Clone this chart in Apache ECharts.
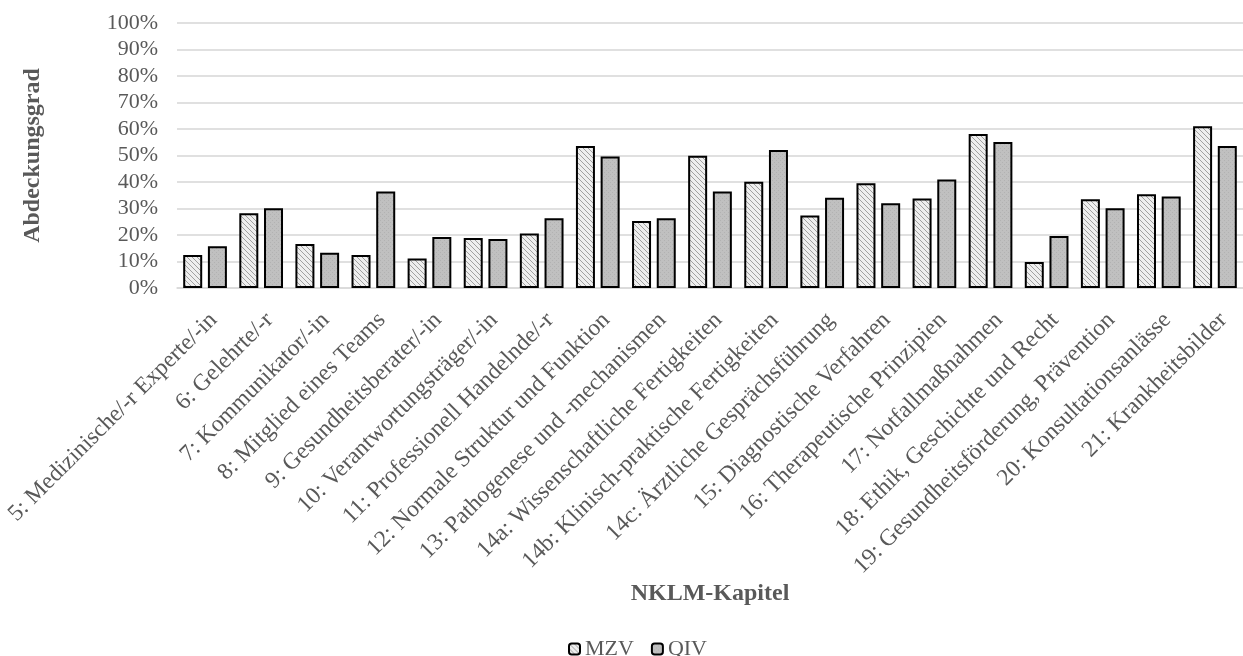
<!DOCTYPE html>
<html>
<head>
<meta charset="utf-8">
<script src="https://cdn.jsdelivr.net/npm/echarts@6/dist/echarts.min.js"></script>
<style>
html,body{margin:0;padding:0;background:#fff;}
#chart{width:1243px;height:656px;}
</style>
</head>
<body>
<div id="chart"></div>
<script>
const categories = [
  "5: Medizinische/-r Experte/-in",
  "6: Gelehrte/-r",
  "7: Kommunikator/-in",
  "8: Mitglied eines Teams",
  "9: Gesundheitsberater/-in",
  "10: Verantwortungsträger/-in",
  "11: Professionell Handelnde/-r",
  "12: Normale Struktur und Funktion",
  "13: Pathogenese und -mechanismen",
  "14a: Wissenschaftliche Fertigkeiten",
  "14b: Klinisch-praktische Fertigkeiten",
  "14c: Ärztliche Gesprächsführung",
  "15: Diagnostische Verfahren",
  "16: Therapeutische Prinzipien",
  "17: Notfallmaßnahmen",
  "18: Ethik, Geschichte und Recht",
  "19: Gesundheitsförderung, Prävention",
  "20: Konsultationsanlässe",
  "21: Krankheitsbilder"
];
const mzv = [12.5, 28.2, 16.6, 12.5, 11.1, 18.9, 20.6, 53.6, 25.3, 49.9, 40.1, 27.4, 39.5, 33.8, 58.1, 9.8, 33.5, 35.4, 61.0];
const qiv = [15.8, 30.1, 13.3, 36.4, 19.2, 18.5, 26.3, 49.6, 26.3, 36.4, 52.1, 34.1, 32.0, 40.9, 55.1, 19.6, 30.1, 34.5, 53.6];
const yTicks = {min: 0, max: 100, interval: 10};

function hatchPattern() {
  const s = 5;
  const c = document.createElement('canvas');
  c.width = s; c.height = s;
  const ctx = c.getContext('2d');
  ctx.fillStyle = '#eeeeee';
  ctx.fillRect(0, 0, s, s);
  ctx.strokeStyle = '#a0a0a0';
  ctx.lineWidth = 1;
  for (let k = -1; k <= 1; k++) {
    ctx.beginPath();
    ctx.moveTo(k * s, 0);
    ctx.lineTo(k * s + s, s);
    ctx.stroke();
  }
  return c;
}
function dotPattern() {
  const c = document.createElement('canvas');
  c.width = 4; c.height = 4;
  const ctx = c.getContext('2d');
  ctx.fillStyle = '#c0c0c0';
  ctx.fillRect(0, 0, 4, 4);
  ctx.fillStyle = '#b2b2b2';
  ctx.fillRect(0, 0, 1, 1);
  ctx.fillRect(2, 2, 1, 1);
  return c;
}

const font = '"Liberation Serif", "Times New Roman", serif';
const txt = '#595959';

const chart = echarts.init(document.getElementById('chart'), null, {renderer: 'canvas'});
chart.setOption({
  animation: false,
  backgroundColor: '#ffffff',
  textStyle: {fontFamily: font},
  grid: {left: 177, top: 23, width: 1083, height: 265},
  legend: {
    data: ['MZV', 'QIV'],
    top: 633,
    left: 563,
    itemWidth: 11,
    itemHeight: 11,
    itemGap: 17,
    textStyle: {fontFamily: font, fontSize: 22, color: txt}
  },
  xAxis: {
    type: 'category',
    data: categories,
    name: 'NKLM-Kapitel',
    nameLocation: 'middle',
    nameGap: 292,
    nameTextStyle: {fontFamily: font, fontSize: 24, fontWeight: 'bold', color: txt},
    axisLine: {show: true, lineStyle: {color: '#d9d9d9', width: 1.5}},
    axisTick: {show: false},
    axisLabel: {
      interval: 0,
      rotate: 45,
      margin: 20,
      verticalAlign: 'top',
      fontFamily: font,
      fontSize: 23.5,
      color: txt
    }
  },
  yAxis: {
    type: 'value',
    min: yTicks.min,
    max: yTicks.max,
    interval: yTicks.interval,
    name: 'Abdeckungsgrad',
    nameLocation: 'middle',
    nameGap: 132,
    nameRotate: 90,
    nameTextStyle: {fontFamily: font, fontSize: 24, fontWeight: 'bold', color: txt},
    axisLine: {show: false},
    axisTick: {show: false},
    splitLine: {show: true, lineStyle: {color: '#d6d6d6', width: 1.5}},
    axisLabel: {
      formatter: '{value}%',
      margin: 19,
      fontFamily: font,
      fontSize: 22,
      color: txt
    }
  },
  series: [
    {
      name: 'MZV',
      type: 'bar',
      data: mzv,
      barWidth: 19,
      barGap: '30%',
      itemStyle: {
        color: {image: hatchPattern(), repeat: 'repeat'},
        borderColor: '#000',
        borderWidth: 2
      }
    },
    {
      name: 'QIV',
      type: 'bar',
      data: qiv,
      barWidth: 19,
      barGap: '30%',
      itemStyle: {
        color: {image: dotPattern(), repeat: 'repeat'},
        borderColor: '#000',
        borderWidth: 2
      }
    }
  ]
});
</script>
</body>
</html>
